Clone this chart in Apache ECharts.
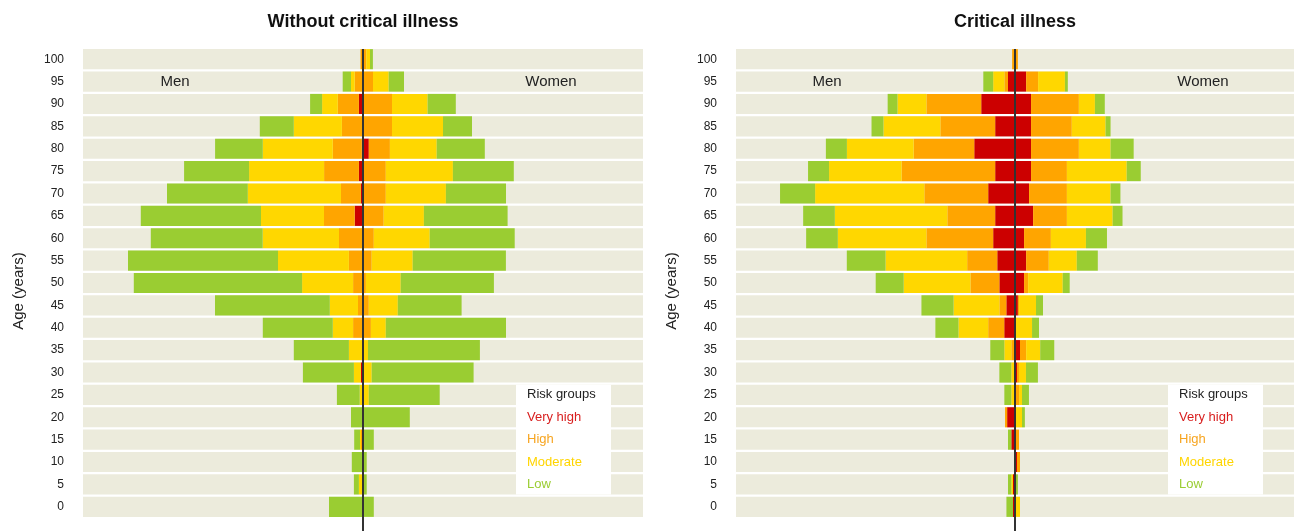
<!DOCTYPE html>
<html>
<head>
<meta charset="utf-8">
<script src="https://cdn.jsdelivr.net/npm/echarts@6/dist/echarts.min.js"></script>
<style>
html,body{margin:0;padding:0;background:#fff;}
#c{width:1294px;height:531px;}
</style>
</head>
<body>
<div id="c"></div>
<script>
// Age categories (bottom to top)
const ages = ['0','5','10','15','20','25','30','35','40','45','50','55','60','65','70','75','80','85','90','95','100'];
const panelTitles = ['Without critical illness', 'Critical illness'];
const riskGroups = ['Very high', 'High', 'Moderate', 'Low'];

// Panel 1: without critical illness (relative units, half-width of panel = 280)
const noCI_men_veryHigh   = [0,0,0,0,0,0,2.1,0,0,0,0,0,0,8.3,2.1,4.1,1.2,0,4.1,0,0];
const noCI_men_high       = [0,0,0,2,0,0,0,0,9.9,5,9.9,14.1,24,30.7,19.9,34.8,29,21.1,21.1,8.3,2.5];
const noCI_men_moderate   = [0,4.1,0,1,0,3.3,7,14.1,20.3,28.2,51,70.9,76.3,63,93.2,75,70,48.1,15.7,3.7,0];
const noCI_men_low        = [34,5,11.2,5.8,12,22.8,51,55.1,70,114.8,168.3,150,111.9,120.2,80.8,65,47.7,34,12,8.3,0];
const noCI_women_veryHigh = [0,0,0,0,0,0,0,0,0,0,0,0,0,0,0,0,5.8,0,0,0,0];
const noCI_women_high     = [0,0,0,0,0,0,0,0,7.9,5.8,2.9,8.7,10.8,20.7,22.8,22.8,21.1,29,29,10,3.3];
const noCI_women_moderate = [0,0,0,0,0,5.8,8.7,5,14.9,29,34.8,41,55.9,40.2,60.1,67.1,46.8,51,35.6,15.7,3.7];
const noCI_women_low      = [10.8,3.7,3.7,10.8,46.8,70.9,101.9,111.9,120.2,63.8,93.2,93.2,85,83.7,60.1,60.9,48.1,29,28.2,15.3,2.9];

// Panel 2: critical illness
const CI_men_veryHigh   = [2,2,0,3.7,7.9,0,0,0,10.8,8.7,15.7,17.8,21.9,19.9,26.9,19.9,40.9,19.9,33.9,7,0];
const CI_men_high       = [0,0,0,0,2.1,0,0,3.7,16.1,7,29,30.2,67,48,64.1,93.9,60.8,55,55,3.7,2.9];
const CI_men_moderate   = [0,1.7,0,0,0,3.7,3.7,7,29.8,45.9,67,81.9,88.9,112.9,109.6,72.8,67,57.1,29,11.2,0];
const CI_men_low        = [6.6,3.3,0,3.3,0,7,12,14.1,23.2,32.3,28.1,38.9,31.8,31.8,35.2,21.1,21.1,12,9.9,9.9,0];
const CI_women_veryHigh = [0,0,2,1,0,0,2,5,1,2.9,9.1,11.2,9.1,18.2,14.1,16.1,16.1,16.1,16.1,11.2,0];
const CI_women_high     = [0,0,3,3,0,4.1,2,6.2,0,1.2,4.1,22.7,26.9,33.9,38,36,48,40.9,48,12,2.9];
const CI_women_moderate = [5,0,0,0,7,2.9,7,14.1,16.1,17,34.7,28.1,35.2,45.9,43.8,60,31.8,33.9,16.1,26.9,0];
const CI_women_low      = [0,2.9,0,0,2.9,7,12,14.1,7,7,7,21.1,21.1,9.9,9.9,14.1,23.2,5,9.9,2.9,0];

const colors = ['#cc0000', '#ffa500', '#ffd700', '#9acd32'];
const legendTextColors = ['#d81e1e', '#f7a520', '#ffd500', '#9acd32'];
const FONT = 'Liberation Sans, Arial, Helvetica, sans-serif';
const HALF = 280;

const panels = [
  {men: [noCI_men_veryHigh, noCI_men_high, noCI_men_moderate, noCI_men_low],
   women: [noCI_women_veryHigh, noCI_women_high, noCI_women_moderate, noCI_women_low]},
  {men: [CI_men_veryHigh, CI_men_high, CI_men_moderate, CI_men_low],
   women: [CI_women_veryHigh, CI_women_high, CI_women_moderate, CI_women_low]}
];

const gridLefts = [83, 736];
const grids = gridLefts.map(l => ({left: l, width: 2*HALF, top: 48, bottom: 13, containLabel: false}));
const xAxes = grids.map((g, i) => ({
  type: 'value', gridIndex: i, min: -HALF, max: HALF, show: false
}));
const yAxes = grids.map((g, i) => ({
  type: 'category', gridIndex: i, data: ages,
  axisLine: {show: false}, axisTick: {show: false}, splitLine: {show: false},
  axisLabel: {fontSize: 12, color: '#222', margin: 19, fontFamily: FONT}
}));

const series = [];
panels.forEach((p, gi) => {
  const stack = 'p' + gi;
  series.push({
    type: 'bar', xAxisIndex: gi, yAxisIndex: gi, stack: stack, silent: true,
    data: ages.map(() => 0), barCategoryGap: '10%',
    showBackground: true, backgroundStyle: {color: '#ecebdc'}
  });
  riskGroups.forEach((rg, k) => {
    series.push({
      name: rg, type: 'bar', xAxisIndex: gi, yAxisIndex: gi, stack: stack,
      barCategoryGap: '10%',
      itemStyle: {color: colors[k]},
      data: p.men[k].map(v => -v)
    });
  });
  riskGroups.forEach((rg, k) => {
    series.push({
      name: rg, type: 'bar', xAxisIndex: gi, yAxisIndex: gi, stack: stack,
      barCategoryGap: '10%',
      itemStyle: {color: colors[k]},
      data: p.women[k].slice()
    });
  });
});

const chart = echarts.init(document.getElementById('c'), null, {renderer: 'canvas'});
chart.setOption({
  animation: false,
  backgroundColor: '#fff',
  grid: grids, xAxis: xAxes, yAxis: yAxes, series: series
});

const graphics = [];
[0, 1].forEach(gi => {
  const P = (x, c) => chart.convertToPixel({gridIndex: gi}, [x, c]);
  const cx = P(0, '100')[0];
  const y100 = P(0, '100')[1];
  const y95 = P(0, '95')[1];
  const pitch = y95 - y100;
  const half = pitch * 0.45;
  const gl = gridLefts[gi];
  // title
  graphics.push({type: 'text', z: 100, style: {text: panelTitles[gi], x: cx, y: 22, align: 'center', verticalAlign: 'middle',
    font: 'bold 18px ' + FONT, fill: '#111'}});
  // axis name
  graphics.push({type: 'text', z: 100, x: gl - 64, y: 291, rotation: Math.PI / 2,
    style: {text: 'Age (years)', x: 0, y: 0, align: 'center', verticalAlign: 'middle', font: '15px ' + FONT, fill: '#222'}});
  // Men / Women labels
  graphics.push({type: 'text', z: 100, style: {text: 'Men', x: cx - 188, y: y95, align: 'center', verticalAlign: 'middle', font: '15px ' + FONT, fill: '#222'}});
  graphics.push({type: 'text', z: 100, style: {text: 'Women', x: cx + 188, y: y95, align: 'center', verticalAlign: 'middle', font: '15px ' + FONT, fill: '#222'}});
  // center line
  graphics.push({type: 'line', z: 100, shape: {x1: cx, y1: y100 - half, x2: cx, y2: 531},
    style: {stroke: '#333', lineWidth: 2}});
  // legend box
  const yTop = P(0, '25')[1] - half;
  const yBot = P(0, '5')[1] + half;
  graphics.push({type: 'rect', z: 90, shape: {x: cx + 153, y: yTop, width: 95, height: yBot - yTop}, style: {fill: '#fff'}});
  const rows = ['25', '20', '15', '10', '5'];
  const texts = ['Risk groups'].concat(riskGroups);
  const tcolors = ['#222'].concat(legendTextColors);
  rows.forEach((r, i) => {
    graphics.push({type: 'text', z: 100, style: {text: texts[i], x: cx + 164, y: P(0, r)[1], align: 'left', verticalAlign: 'middle',
      font: '13px ' + FONT, fill: tcolors[i]}});
  });
});
chart.setOption({graphic: graphics});
</script>
</body>
</html>
